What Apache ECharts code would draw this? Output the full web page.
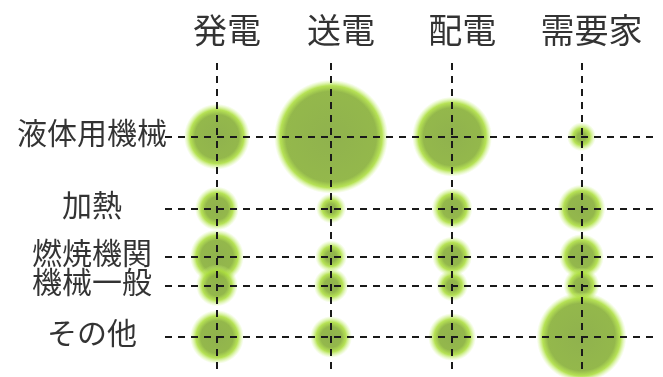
<!DOCTYPE html>
<html>
<head>
<meta charset="utf-8">
<script src="https://cdn.jsdelivr.net/npm/echarts@6/dist/echarts.min.js"></script>
<style>
  html, body { margin: 0; padding: 0; background: #fff; }
  #main { width: 663px; height: 377px; }
</style>
</head>
<body>
<div id="main"></div>
<script>
// columns and rows
const columns = ['発電', '送電', '配電', '需要家'];
const rows = ['液体用機械', '加熱', '燃焼機関', '機械一般', 'その他'];
// where each column / row sits on its axis (0-100)
const colPos = [10.6, 33.9, 58.6, 85.0];
const rowPos = [23.7, 46.8, 62.2, 71.5, 88.1];
// bubble size per column, top row to bottom row
const hatsuden = [66, 44, 54, 42, 54];
const soden = [114, 30, 32, 35, 42];
const haiden = [80, 41, 40, 32, 48];
const juyouka = [29, 48, 45, 36, 90];

const sizes = [hatsuden, soden, haiden, juyouka];
const font = '"Noto Sans CJK JP", "Noto Sans", sans-serif';

// olive core with a bright yellow-green halo, halo ~10px wide
function bubbleColor(d) {
  const core = Math.max(0.3, (d - 20) / d);
  return new echarts.graphic.RadialGradient(0.5, 0.5, 0.5, [
    { offset: 0, color: 'rgba(138,174,68,0.95)' },
    { offset: core - 0.03, color: 'rgba(142,180,66,0.95)' },
    { offset: core + (1 - core) * 0.4, color: 'rgba(172,222,62,0.88)' },
    { offset: 1, color: 'rgba(205,244,130,0)' }
  ]);
}

const bubbles = [];
sizes.forEach((col, i) => {
  col.forEach((v, j) => {
    bubbles.push({ value: [colPos[i], rowPos[j], v], itemStyle: { color: bubbleColor(v), opacity: 1 } });
  });
});

const dash = { color: '#1a1a1a', width: 2, type: [7, 6] };

const chart = echarts.init(document.getElementById('main'));
chart.setOption({
  animation: false,
  grid: { left: 165, right: 8, top: 63, bottom: 3 },
  xAxis: { type: 'value', min: 0, max: 100, show: false },
  yAxis: { type: 'value', min: 0, max: 100, inverse: true, show: false },
  series: [
    {
      // dashed guide lines
      type: 'scatter',
      data: [],
      z: 1,
      markLine: {
        silent: true,
        symbol: 'none',
        label: { show: false },
        lineStyle: dash,
        data: colPos.map(x => ({ xAxis: x })).concat(rowPos.map(y => ({ yAxis: y })))
      }
    },
    {
      type: 'scatter',
      z: 3,
      data: bubbles,
      symbolSize: d => d[2]
    },
    {
      // column headers
      type: 'scatter',
      clip: false,
      symbolSize: 0,
      data: columns.map((c, i) => ({ value: [colPos[i], 0], name: c })),
      label: {
        show: true, position: 'inside', offset: [10, -33],
        formatter: p => p.name,
        fontSize: 34, color: '#000', fontFamily: font
      }
    },
    {
      // row labels
      type: 'scatter',
      clip: false,
      symbolSize: 0,
      data: rows.map((r, j) => ({ value: [0, rowPos[j]], name: r })),
      label: {
        show: true, position: 'inside', offset: [-73, -4], align: 'center',
        formatter: p => p.name,
        fontSize: 30, color: '#000', fontFamily: font
      }
    }
  ]
});
</script>
</body>
</html>
